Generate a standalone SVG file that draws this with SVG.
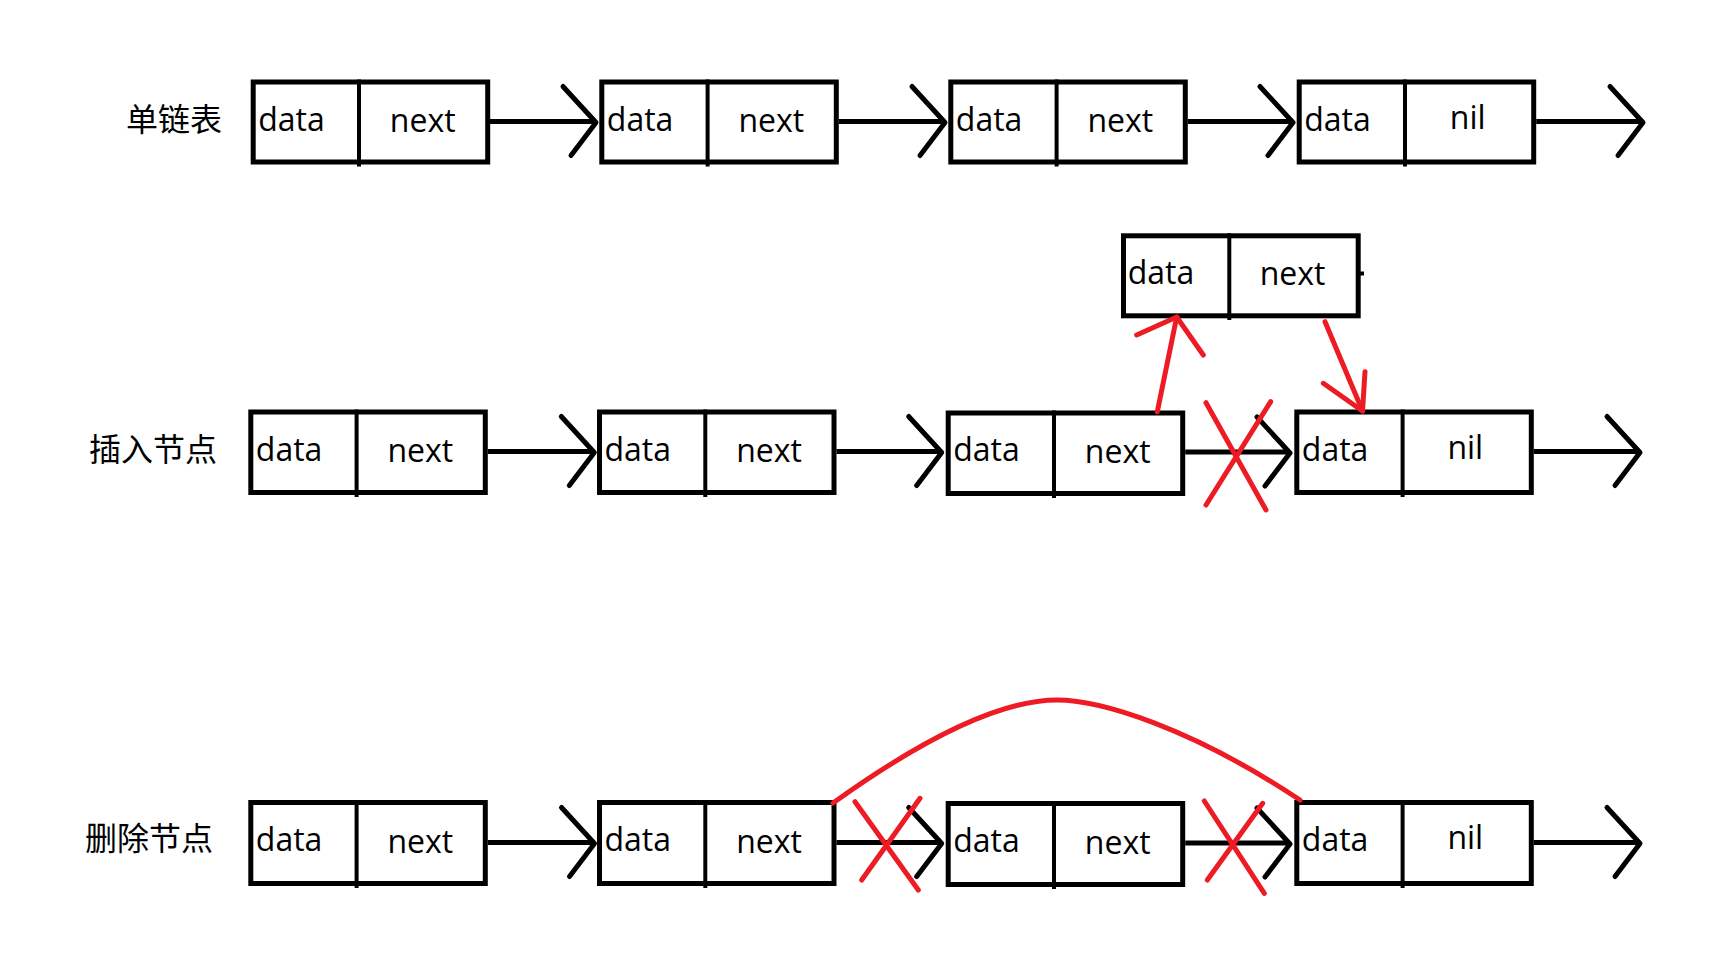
<svg xmlns="http://www.w3.org/2000/svg" xmlns:xlink="http://www.w3.org/1999/xlink" width="1733" height="964" viewBox="0 0 1733 964">
<style>
.box{fill:none;stroke:#000;stroke-width:5}
.div{stroke:#000;stroke-width:4}
.t{font-family:"Open Sans","Noto Sans","DejaVu Sans",sans-serif;font-size:32px;fill:#000}
.c{text-anchor:middle}
.lab{font-family:"Noto Sans CJK SC","Noto Sans",sans-serif;font-size:32px;fill:#000}
.ln{stroke:#000;stroke-width:5;fill:none}
.hd{stroke:#000;stroke-width:5;fill:none;stroke-linecap:round;stroke-linejoin:round}
.red{stroke:#ed1c24;stroke-width:5;fill:none;stroke-linecap:round;stroke-linejoin:round}
</style>
<defs>
<path id="head" class="hd" d="M-33,-35 L0,1 L-25,34"/>
</defs>
<rect width="1733" height="964" fill="#fff"/>

<g id="labels">
<text class="lab" x="126" y="131">单链表</text>
<text class="lab" x="89" y="461">插入节点</text>
<text class="lab" x="85" y="850">删除节点</text>
</g>

<!-- Row 1 -->
<g id="r1n1"><rect class="box" x="253.2" y="82" width="234.5" height="80"/><line class="div" x1="359" y1="79.5" x2="359" y2="166.5"/><text class="t" x="258.2" y="130.5">data</text><text class="t c" x="422.7" y="132">next</text></g>
<g id="r1n2"><rect class="box" x="601.8" y="82" width="234.5" height="80"/><line class="div" x1="707.6" y1="79.5" x2="707.6" y2="166.5"/><text class="t" x="606.8" y="130.5">data</text><text class="t c" x="771.3" y="132">next</text></g>
<g id="r1n3"><rect class="box" x="950.8" y="82" width="234.5" height="80"/><line class="div" x1="1056.6" y1="79.5" x2="1056.6" y2="166.5"/><text class="t" x="955.8" y="130.5">data</text><text class="t c" x="1120.3" y="132">next</text></g>
<g id="r1n4"><rect class="box" x="1299.2" y="82" width="234.5" height="80"/><line class="div" x1="1405" y1="79.5" x2="1405" y2="166.5"/><text class="t" x="1304.2" y="130.5">data</text><text class="t c" x="1467.7" y="128.5">nil</text></g>

<!-- Row 2 -->
<g id="r2n1"><rect class="box" x="250.8" y="412" width="234.5" height="80.5"/><line class="div" x1="356.6" y1="409.5" x2="356.6" y2="497"/><text class="t" x="255.8" y="460.5">data</text><text class="t c" x="420.3" y="462">next</text></g>
<g id="r2n2"><rect class="box" x="599.5" y="412" width="234.5" height="80.5"/><line class="div" x1="705.3" y1="409.5" x2="705.3" y2="497"/><text class="t" x="604.5" y="460.5">data</text><text class="t c" x="769" y="462">next</text></g>
<g id="r2n3"><rect class="box" x="948.2" y="413" width="234.5" height="80.5"/><line class="div" x1="1054" y1="410.5" x2="1054" y2="498"/><text class="t" x="953.2" y="461">data</text><text class="t c" x="1117.7" y="463">next</text></g>
<g id="r2n4"><rect class="box" x="1296.8" y="412" width="234.5" height="80.5"/><line class="div" x1="1402.6" y1="409.5" x2="1402.6" y2="497"/><text class="t" x="1301.8" y="460.5">data</text><text class="t c" x="1465.3" y="458.5">nil</text></g>
<g id="insNode"><rect class="box" x="1123.5" y="235.8" width="234.7" height="80"/><line class="div" x1="1229.3" y1="233.3" x2="1229.3" y2="320"/><text class="t" x="1127.7" y="283.5">data</text><text class="t c" x="1292.5" y="285">next</text><line class="div" x1="1360" y1="273.5" x2="1364" y2="273.5"/></g>

<!-- Row 3 -->
<g id="r3n1"><rect class="box" x="250.8" y="802.5" width="234.5" height="81"/><line class="div" x1="356.6" y1="800" x2="356.6" y2="888"/><text class="t" x="255.8" y="851">data</text><text class="t c" x="420.3" y="852.5">next</text></g>
<g id="r3n2"><rect class="box" x="599.5" y="802.5" width="234.5" height="81"/><line class="div" x1="705.3" y1="800" x2="705.3" y2="888"/><text class="t" x="604.5" y="851">data</text><text class="t c" x="769" y="852.5">next</text></g>
<g id="r3n3"><rect class="box" x="948.2" y="803.5" width="234.5" height="81"/><line class="div" x1="1054" y1="801" x2="1054" y2="889"/><text class="t" x="953.2" y="852">data</text><text class="t c" x="1117.7" y="853.5">next</text></g>
<g id="r3n4"><rect class="box" x="1296.8" y="802.5" width="234.5" height="81"/><line class="div" x1="1402.6" y1="800" x2="1402.6" y2="888"/><text class="t" x="1301.8" y="851">data</text><text class="t c" x="1465.3" y="849">nil</text></g>

<g id="connectors">
<!-- row 1 -->
<line class="ln" x1="490" y1="121.5" x2="596" y2="121.5"/><use xlink:href="#head" href="#head" transform="translate(596,121.5)"/>
<line class="ln" x1="838.8" y1="121.5" x2="945" y2="121.5"/><use xlink:href="#head" href="#head" transform="translate(945,121.5)"/>
<line class="ln" x1="1187.8" y1="121.5" x2="1293" y2="121.5"/><use xlink:href="#head" href="#head" transform="translate(1293,121.5)"/>
<line class="ln" x1="1536.2" y1="121.5" x2="1643" y2="121.5"/><use xlink:href="#head" href="#head" transform="translate(1643,121.5)"/>
<!-- row 2 -->
<line class="ln" x1="487.8" y1="451.5" x2="594.3" y2="451.5"/><use xlink:href="#head" href="#head" transform="translate(594.3,451.5)"/>
<line class="ln" x1="836.5" y1="451.5" x2="941.7" y2="451.5"/><use xlink:href="#head" href="#head" transform="translate(941.7,451.5)"/>
<line class="ln" x1="1185.2" y1="452" x2="1290" y2="452"/><use xlink:href="#head" href="#head" transform="translate(1290,452)"/>
<line class="ln" x1="1533.8" y1="451.5" x2="1640" y2="451.5"/><use xlink:href="#head" href="#head" transform="translate(1640,451.5)"/>
<!-- row 3 -->
<line class="ln" x1="487.8" y1="842.5" x2="594.5" y2="842.5"/><use xlink:href="#head" href="#head" transform="translate(594.5,842.5)"/>
<line class="ln" x1="836.5" y1="842.5" x2="941.7" y2="842.5"/><use xlink:href="#head" href="#head" transform="translate(941.7,842.5)"/>
<line class="ln" x1="1185.2" y1="843" x2="1290" y2="843"/><use xlink:href="#head" href="#head" transform="translate(1290,843)"/>
<line class="ln" x1="1533.8" y1="842.5" x2="1640" y2="842.5"/><use xlink:href="#head" href="#head" transform="translate(1640,842.5)"/>
<!-- red insert arrows -->
<line class="red" x1="1157.3" y1="411.7" x2="1176.7" y2="317"/>
<polyline class="red" points="1136.7,335 1176.7,317 1203.3,355"/>
<line class="red" x1="1325" y1="321.7" x2="1362.5" y2="411"/>
<polyline class="red" points="1323.3,383.3 1362.5,411 1365,371.7"/>
<!-- red crosses -->
<line class="red" x1="1206" y1="402.7" x2="1266" y2="510"/>
<line class="red" x1="1270.7" y1="401.7" x2="1206" y2="505"/>
<line class="red" x1="855" y1="801.7" x2="918.3" y2="890"/>
<line class="red" x1="920" y1="798.3" x2="861.7" y2="880"/>
<line class="red" x1="1204.3" y1="801" x2="1264.3" y2="893.3"/>
<line class="red" x1="1262.7" y1="803.3" x2="1207.3" y2="880"/>
<!-- red bypass curve -->
<path class="red" d="M833,803 C900,755 990,700 1057,700 C1100,700 1190,727 1300,800"/>
</g>
</svg>
